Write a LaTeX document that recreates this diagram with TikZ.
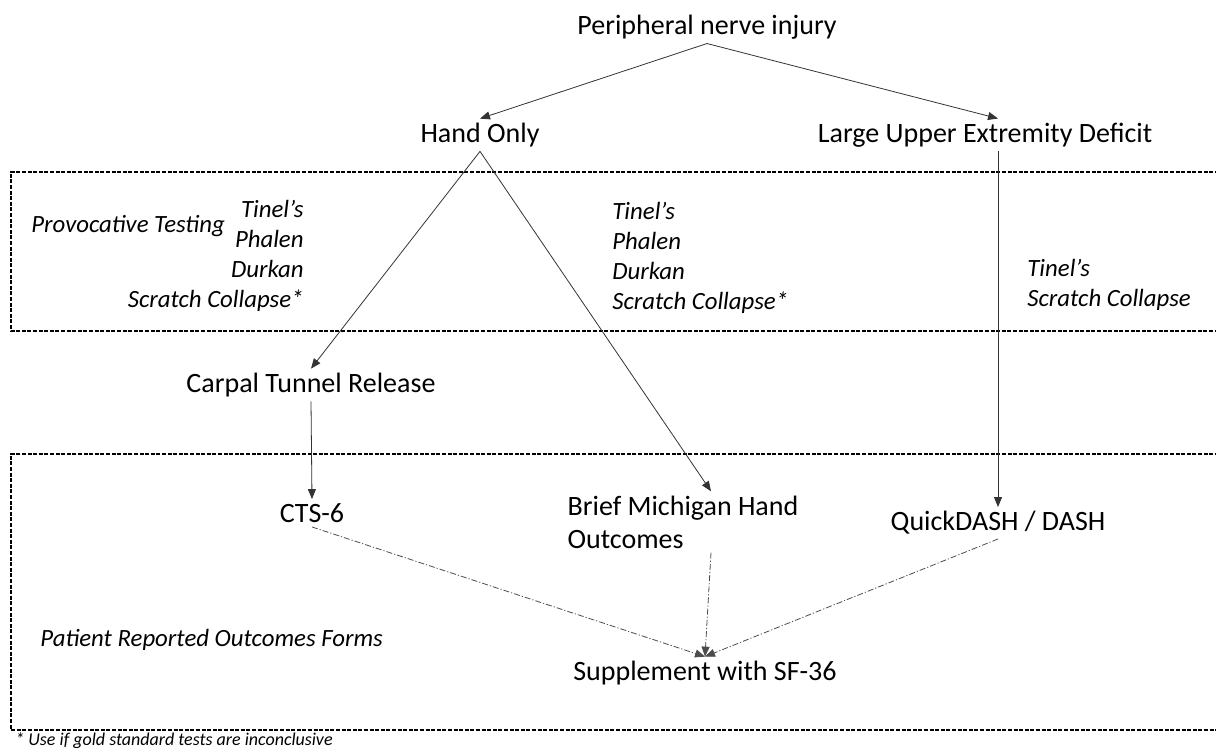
\documentclass[tikz,border=0pt]{standalone}
\usepackage{fontspec}
\setmainfont{Carlito}
\usepackage{tikz}
\usetikzlibrary{positioning, arrows.meta}

\begin{document}
\begin{tikzpicture}[x=0.5pt, y=-0.5pt,
    box/.style={font=\fontsize{14}{16.5}\selectfont, inner sep=2pt},
    tests/.style={font=\fontsize{12.4}{15}\selectfont\itshape, inner sep=0pt},
    label/.style={font=\fontsize{12.4}{15}\selectfont\itshape, inner sep=0pt, anchor=west},
    flow/.style={draw=black!80, line width=0.4pt, -{Triangle[length=5pt, width=4pt]}},
    prom/.style={draw=black!70, line width=0.4pt, dash pattern=on 3pt off 1pt on 0.6pt off 1pt, -{Triangle[length=5pt, width=4pt]}},
    region/.style={draw=black, line width=0.6pt, dash pattern=on 2pt off 0.8pt}]
    \useasboundingbox (0,0) rectangle (1216,751);

    % dashed regions, open to the right
    \draw[region] (1230,172) -- (11,172) -- (11,331) -- (1230,331);
    \draw[region] (1230,454) -- (11,454) -- (11,730) -- (1230,730);

    % nodes
    \node[box] (pni) at (707,27) {Peripheral nerve injury};
    \node[box] (hand) at (480,135) {Hand Only};
    \node[box] (lue) at (985,135) {Large Upper Extremity Deficit};
    \node[box] (ctr) at (311,385) {Carpal Tunnel Release};
    \node[box] (cts) at (312,513) {CTS-6};
    \node[box, align=left] (bmh) at (683,522) {Brief Michigan Hand\\Outcomes};
    \node[box] (qd) at (998,523) {QuickDASH / DASH};
    \node[box] (sf) at (705,673) {Supplement with SF-36};

    % labels and test lists
    \node[label] (prov) at (31,226) {Provocative Testing};
    \node[label] (pro) at (40,640) {Patient Reported Outcomes Forms};
    \node[tests, align=right, anchor=east] (testa) at (304,256) {Tinel's\\Phalen\\Durkan\\Scratch Collapse*};
    \node[tests, align=left, anchor=west] (testb) at (612,258) {Tinel's\\Phalen\\Durkan\\Scratch Collapse*};
    \node[tests, align=left, anchor=west] (testc) at (1027,285) {Tinel's\\Scratch Collapse};
    \node[font=\fontsize{9}{10}\selectfont\itshape, inner sep=0pt, anchor=west] (note) at (15,741) {* Use if gold standard tests are inconclusive};

    % connectors
    \draw[flow] (pni.south) -- (hand.north);
    \draw[flow] (pni.south) -- (lue.north -| qd.north);
    \draw[flow] (hand.south) -- (ctr.north);
    \draw[flow] (hand.south) -- ([xshift=14pt]bmh.north);
    \draw[flow] (lue.south -| qd.north) -- (qd.north);
    \draw[flow] (ctr.south) -- (cts.north);
    \draw[prom] (cts.south) -- (sf.north);
    \draw[prom] ([xshift=14pt]bmh.south) -- (sf.north);
    \draw[prom] (qd.south) -- (sf.north);
\end{tikzpicture}
\end{document}
